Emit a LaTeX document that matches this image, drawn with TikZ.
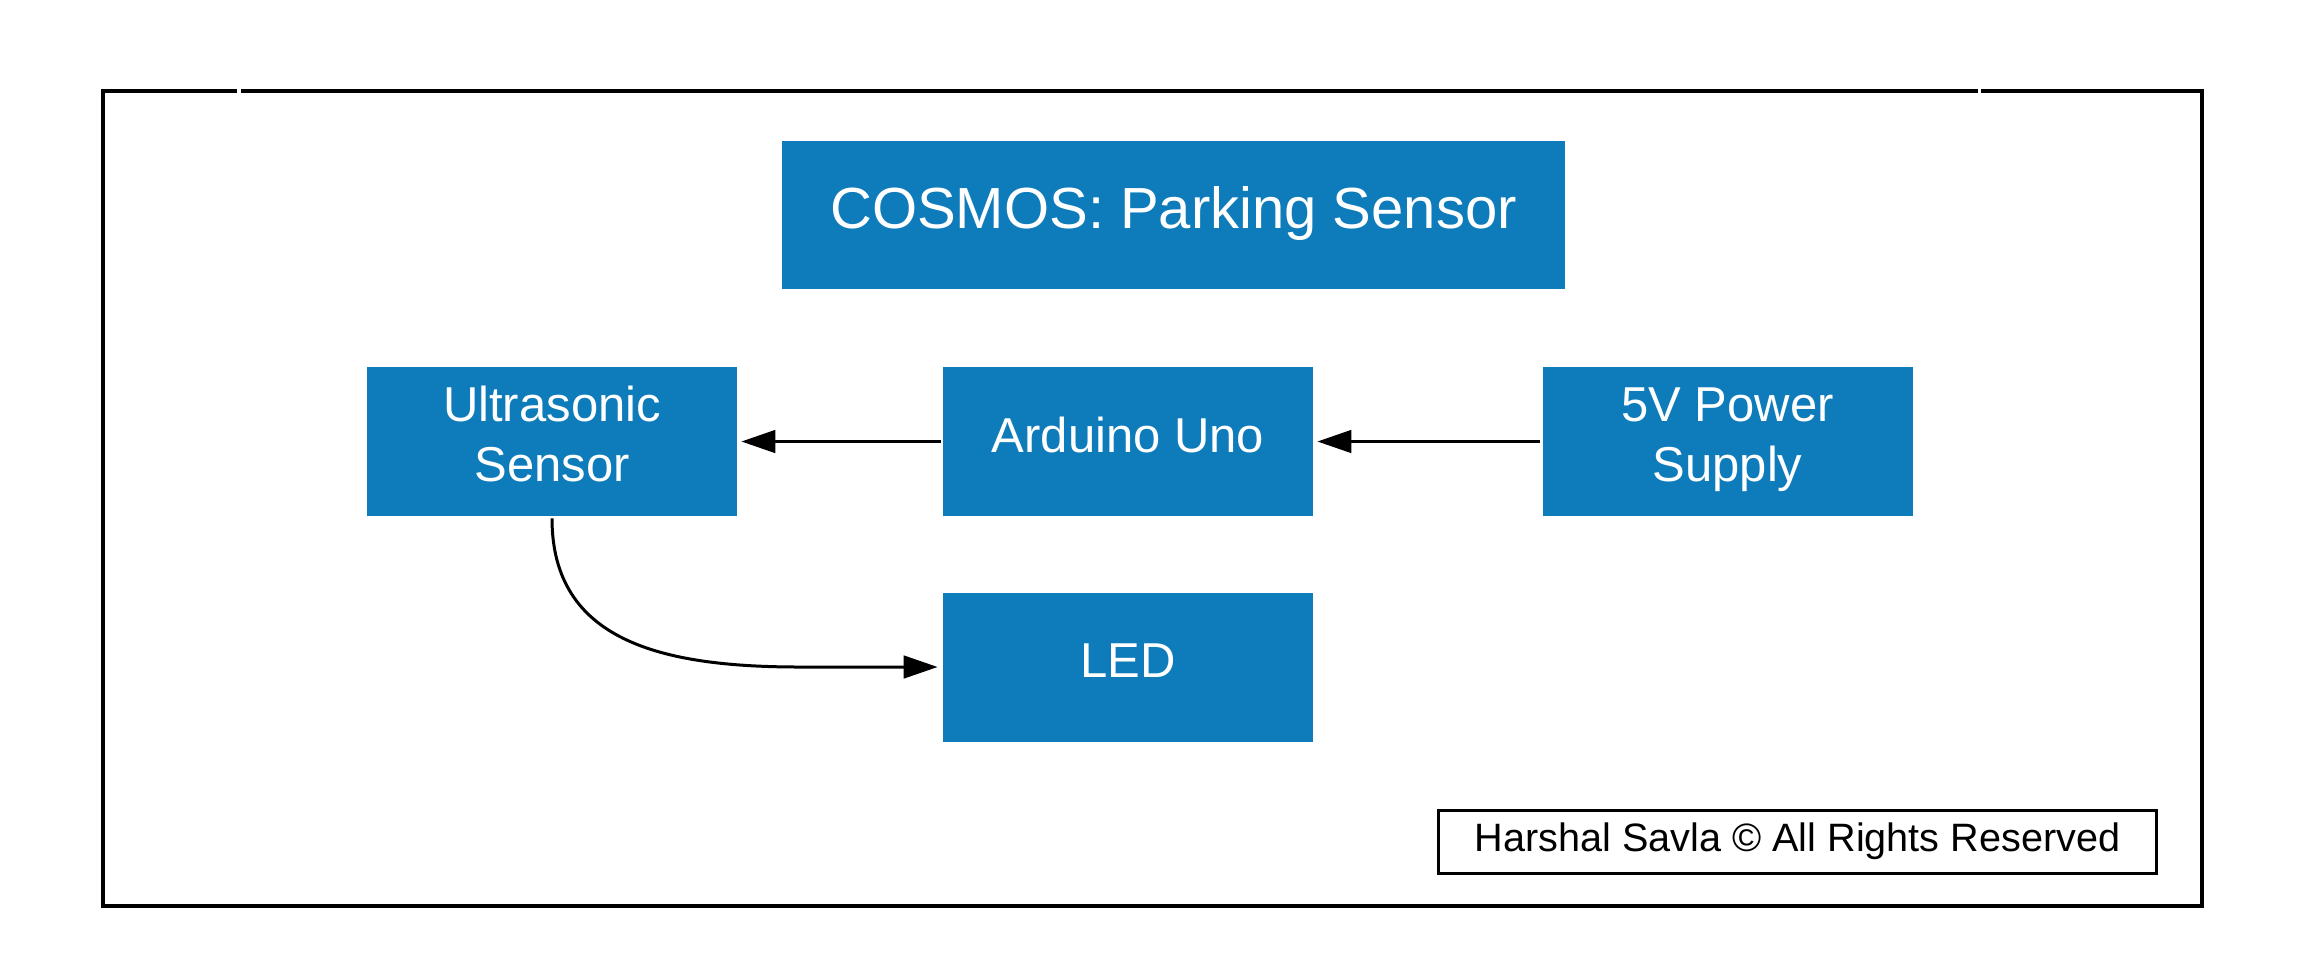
\documentclass[tikz,border=0pt]{standalone}
\usepackage{fontspec}
\setmainfont{Liberation Sans}
\usetikzlibrary{arrows.meta}
\definecolor{boxblue}{RGB}{14,124,186}
\newcommand\twolines[2]{\begin{tabular}[t]{@{}c@{}}#1\\#2\end{tabular}}
\begin{document}
\begin{tikzpicture}[x=0.5pt,y=-0.5pt,
  block/.style={fill=boxblue,text=white,minimum width=185pt,minimum height=74.5pt,inner sep=0pt,text height=10.8pt,text depth=0pt,font=\fontsize{24.5}{30}\selectfont},
  twoline/.style={text height=0pt,text depth=19.8pt},
  link/.style={line width=1.5pt,-{Triangle[length=17pt,width=11.3pt]},shorten >=2pt,shorten <=1pt}]
\useasboundingbox (0,0) rectangle (2321,976);
\draw[line width=2pt] (237,91) -- (103,91) -- (103,906) -- (2202,906) -- (2202,91) -- (1981,91);
\draw[line width=2pt] (241,91) -- (1978,91);
\node[block,minimum width=391.5pt,minimum height=74pt,text height=13pt,font=\fontsize{29}{35}\selectfont] (title) at (1173.5,215) {COSMOS: Parking Sensor};
\node[block,twoline] (us) at (552,441.5) {\twolines{Ultrasonic}{Sensor}};
\node[block] (uno) at (1128,441.5) {Arduino Uno};
\node[block,twoline] (psu) at (1727.5,441.5) {\twolines{5V Power}{Supply}};
\node[block] (led) at (1128,667) {LED};
\node[draw,line width=1.5pt,minimum width=359pt,minimum height=31.5pt,inner sep=0pt,text height=9.7pt,text depth=0pt,font=\fontsize{19.8}{24}\selectfont] (copy) at (1797.5,842) {Harshal Savla © All Rights Reserved};
\draw[link] (uno) -- (us);
\draw[link] (psu) -- (uno);
\coordinate (bend) at (800,667);
\draw[link,shorten >=2.5pt] (us.south) .. controls +(0,124) and +(-140,0) .. (bend) -- (led.west);
\end{tikzpicture}
\end{document}
